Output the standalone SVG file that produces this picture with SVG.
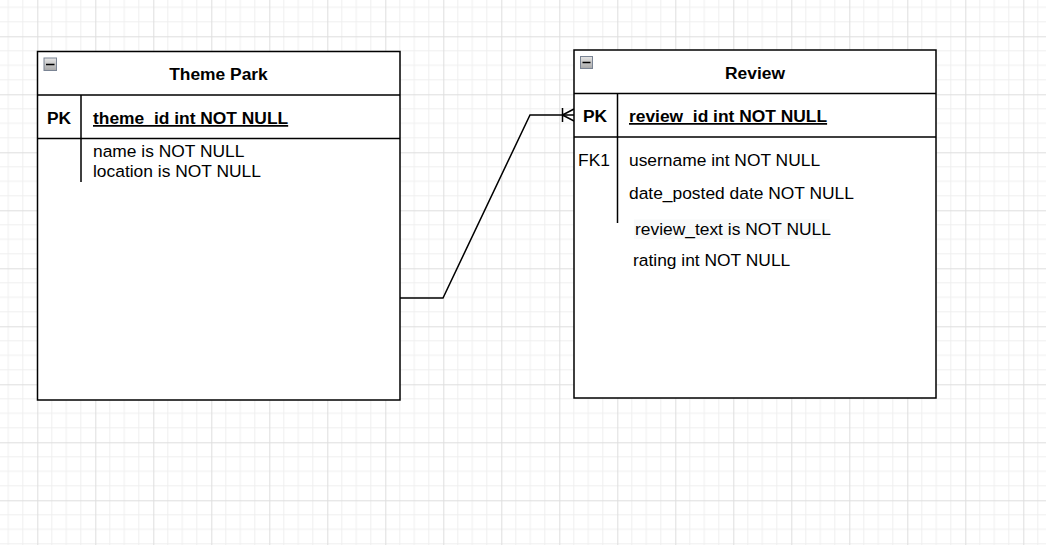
<svg xmlns="http://www.w3.org/2000/svg" width="1046" height="548" viewBox="0 0 1046 548">
<style>
.tbl{fill:#ffffff;stroke:#000;stroke-width:1.5}
.ln{stroke:#000;stroke-width:1.5;fill:none}
.t{font-family:"Liberation Sans",Arial,sans-serif;font-size:17.4px;fill:#000}
.b{font-weight:bold}
.u{text-decoration:underline}
.conn{stroke:#000;stroke-width:1.5;fill:none}
</style>
<defs>
<pattern id="grid" patternUnits="userSpaceOnUse" x="37.3" y="36.3" width="58" height="58">
<path d="M14.5 0V58M29 0V58M43.5 0V58M0 14.5H58M0 29H58M0 43.5H58" stroke="#efefef" stroke-width="1"/>
<path d="M0.5 0V58M0 0.5H58" stroke="#dedede" stroke-width="1"/>
</pattern>
<linearGradient id="ig" x1="0" y1="0" x2="0" y2="1">
<stop offset="0" stop-color="#e6e6e6"/>
<stop offset="1" stop-color="#a8a8a8"/>
</linearGradient>
</defs>
<rect width="1046" height="548" fill="#ffffff"/>
<rect width="1046" height="545" fill="url(#grid)"/>

<g id="connectors">
<path class="conn" d="M400 298H443L530 115H574"/>
<path class="conn" d="M562.5 108V122M562.5 115L574 109M562.5 115L574 121"/>
</g>

<g id="theme-park">
<rect class="tbl" x="37.5" y="51.5" width="362.5" height="348.5"/>
<path class="ln" d="M37.5 95H400M37.5 138.5H400M81 95V182"/>
<rect x="44" y="58" width="12.5" height="12.5" fill="url(#ig)" stroke="#7a8494" stroke-width="1"/>
<path d="M46 64.5H54.5" stroke="#000" stroke-width="1.5"/>
<text class="t b" x="218.5" y="80" text-anchor="middle">Theme Park</text>
<text class="t b" x="59" y="124" text-anchor="middle">PK</text>
<text class="t b u" x="93" y="124">theme_id int NOT NULL</text>
<text class="t" x="93" y="157">name is NOT NULL</text>
<text class="t" x="93" y="177">location is NOT NULL</text>
</g>

<g id="review">
<rect class="tbl" x="574" y="50" width="362" height="348"/>
<path class="ln" d="M574 93.5H936M574 137H936M617.5 93.5V223"/>
<rect x="580.5" y="56.5" width="12" height="12" fill="url(#ig)" stroke="#7a8494" stroke-width="1"/>
<path d="M582.5 62.5H590.5" stroke="#000" stroke-width="1.5"/>
<text class="t b" x="755" y="79" text-anchor="middle">Review</text>
<text class="t b" x="595" y="122" text-anchor="middle">PK</text>
<text class="t b u" x="629" y="122">review_id int NOT NULL</text>
<text class="t" x="594" y="166" text-anchor="middle">FK1</text>
<text class="t" x="629" y="166">username int NOT NULL</text>
<text class="t" x="629" y="199">date_posted date NOT NULL</text>
<rect x="634" y="219.5" width="196" height="19.5" fill="#f8f9fa"/>
<text class="t" x="635" y="235">review_text is NOT NULL</text>
<text class="t" x="633" y="266">rating int NOT NULL</text>
</g>
</svg>
